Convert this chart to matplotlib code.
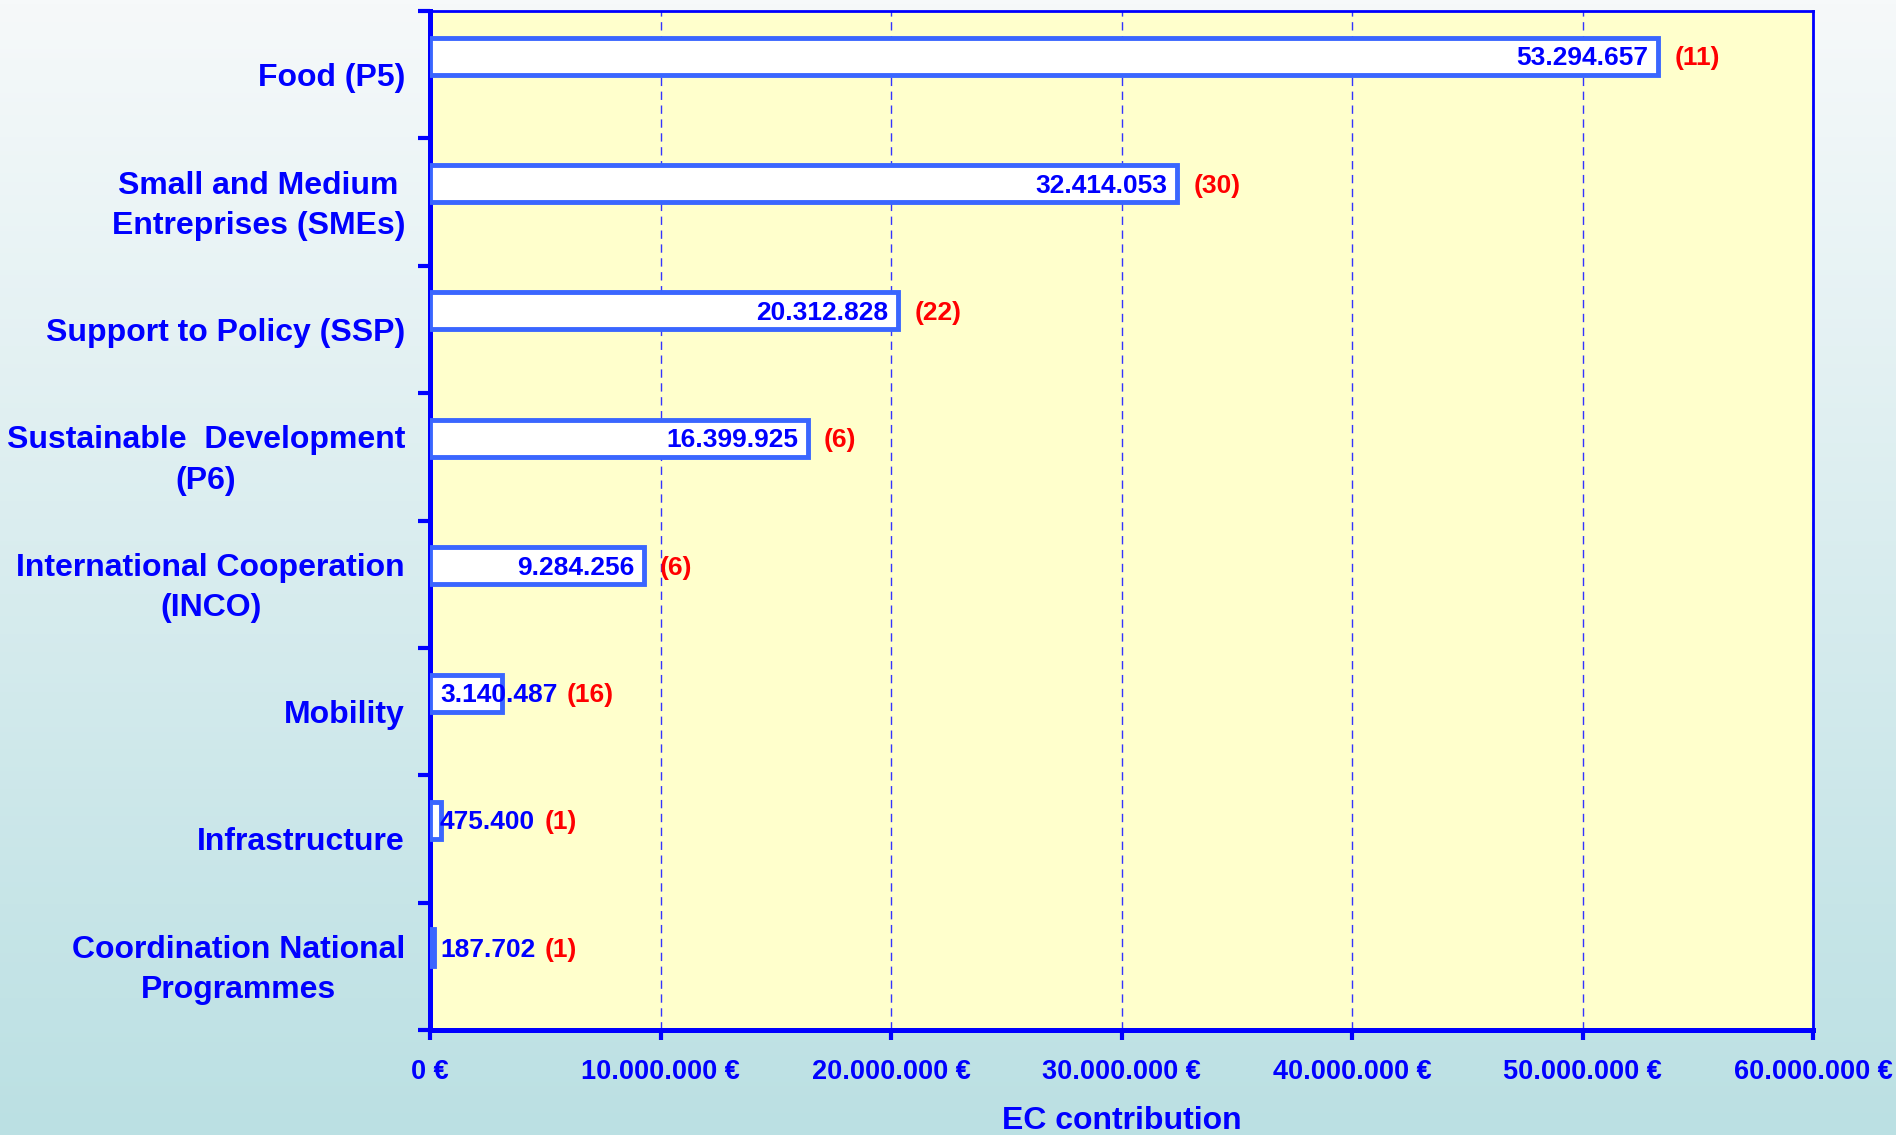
import numpy as np
import matplotlib
matplotlib.use("Agg")
import matplotlib.pyplot as plt
from matplotlib.colors import LinearSegmentedColormap
from matplotlib.transforms import ScaledTranslation

# ---- data ----
categories = [
    "Food (P5)",
    "Small and Medium\nEntreprises (SMEs)",
    "Support to Policy (SSP)",
    "Sustainable  Development\n(P6)",
    "International Cooperation\n(INCO)",
    "Mobility",
    "Infrastructure",
    "Coordination National\nProgrammes",
]
contributions = [53294657, 32414053, 20312828, 16399925, 9284256, 3140487, 475400, 187702]
counts = [11, 30, 22, 6, 6, 16, 1, 1]
xticks = [0, 10000000, 20000000, 30000000, 40000000, 50000000, 60000000]
xlabel = "EC contribution"

plt.rcParams['font.family'] = ['Liberation Sans', 'DejaVu Sans']
plt.rcParams['font.weight'] = 'bold'

BLUE = '#0000FF'
EDGE = '#3A66FF'
RED = '#FF0000'

W, H = 1896, 1135
fig = plt.figure(figsize=(W / 100, H / 100), dpi=100)

# background gradient
bg = fig.add_axes([0, 0, 1, 1], zorder=-10)
cmap = LinearSegmentedColormap.from_list('bg', ['#F6F9FA', '#BBE0E3'])
grad = np.linspace(0, 1, 256).reshape(-1, 1)
bg.imshow(grad, aspect='auto', cmap=cmap, extent=[0, 1, 0, 1], origin='upper')
bg.axis('off')

left, right, top, bottom = 430, 1813, 11, 1030
ax = fig.add_axes([left / W, (H - bottom) / H, (right - left) / W, (bottom - top) / H])
ax.set_facecolor('#FFFFCC')

n = len(categories)
centers = np.arange(n) + 0.5
bar_h = 0.29
bar_y = centers - 0.145

ax.barh(bar_y, contributions, height=bar_h, color='white', edgecolor=EDGE,
        linewidth=3.5, zorder=3)

ax.set_xlim(0, 60000000)
ax.set_ylim(n, 0)

# ticks
ax.set_xticks(xticks)
ax.set_xticklabels([f"{v:,.0f}".replace(',', '.') + " €" for v in xticks],
                   fontsize=19.5, fontweight='bold', color=BLUE)
ax.set_yticks(np.arange(n + 1))
ax.set_yticklabels([])
ax.set_yticks(centers, minor=True)
ax.set_yticklabels(categories, minor=True, fontsize=23, fontweight='bold', color=BLUE)
ax.tick_params(axis='y', which='major', direction='out', length=9, width=3, color=BLUE)
ax.tick_params(axis='y', which='minor', length=0, pad=18)
ax.tick_params(axis='x', which='major', direction='out', length=7, width=3, color=BLUE, pad=14)
shift_up = ScaledTranslation(0, 5 / 100, fig.dpi_scale_trans)
for lbl in ax.get_yticklabels(minor=True):
    lbl.set_multialignment('center')
    lbl.set_linespacing(1.45)
    if '\n' in lbl.get_text():
        lbl.set_transform(lbl.get_transform() + shift_up)

for side in ['left', 'bottom']:
    ax.spines[side].set_linewidth(3.6)
    ax.spines[side].set_color(BLUE)
for side in ['top', 'right']:
    ax.spines[side].set_linewidth(2)
    ax.spines[side].set_color(BLUE)

ax.xaxis.grid(True, linestyle=(0, (6, 4)), color='#3333FF', linewidth=1)
ax.set_axisbelow(True)

ax.set_xlabel(xlabel, fontsize=23, fontweight='bold', color=BLUE, labelpad=15)

# value labels
fig.canvas.draw()
renderer = fig.canvas.get_renderer()
for y, v, c in zip(bar_y, contributions, counts):
    label = f"{v:,.0f}".replace(',', '.')
    t = ax.annotate(label, xy=(v, y), xytext=(-10, -2), textcoords='offset pixels',
                    ha='right', va='center', fontsize=19, fontweight='bold',
                    color=BLUE, zorder=5)
    bb = t.get_window_extent(renderer)
    x0_disp = ax.transData.transform((0, y))[0]
    if bb.x0 < x0_disp + 12:
        t.remove()
        t = ax.annotate(label, xy=(0, y), xytext=(10, -2), textcoords='offset pixels',
                        ha='left', va='center', fontsize=19, fontweight='bold',
                        color=BLUE, zorder=5)
        ax.annotate(f"({c})", xy=(1, 0.5), xycoords=t, xytext=(9, 0),
                    textcoords='offset pixels', ha='left', va='center',
                    fontsize=19, fontweight='bold', color=RED, zorder=5)
    else:
        ax.annotate(f"({c})", xy=(v, y), xytext=(16, -2), textcoords='offset pixels',
                    ha='left', va='center', fontsize=19, fontweight='bold',
                    color=RED, zorder=5)

fig.savefig('out.png', dpi=100)
